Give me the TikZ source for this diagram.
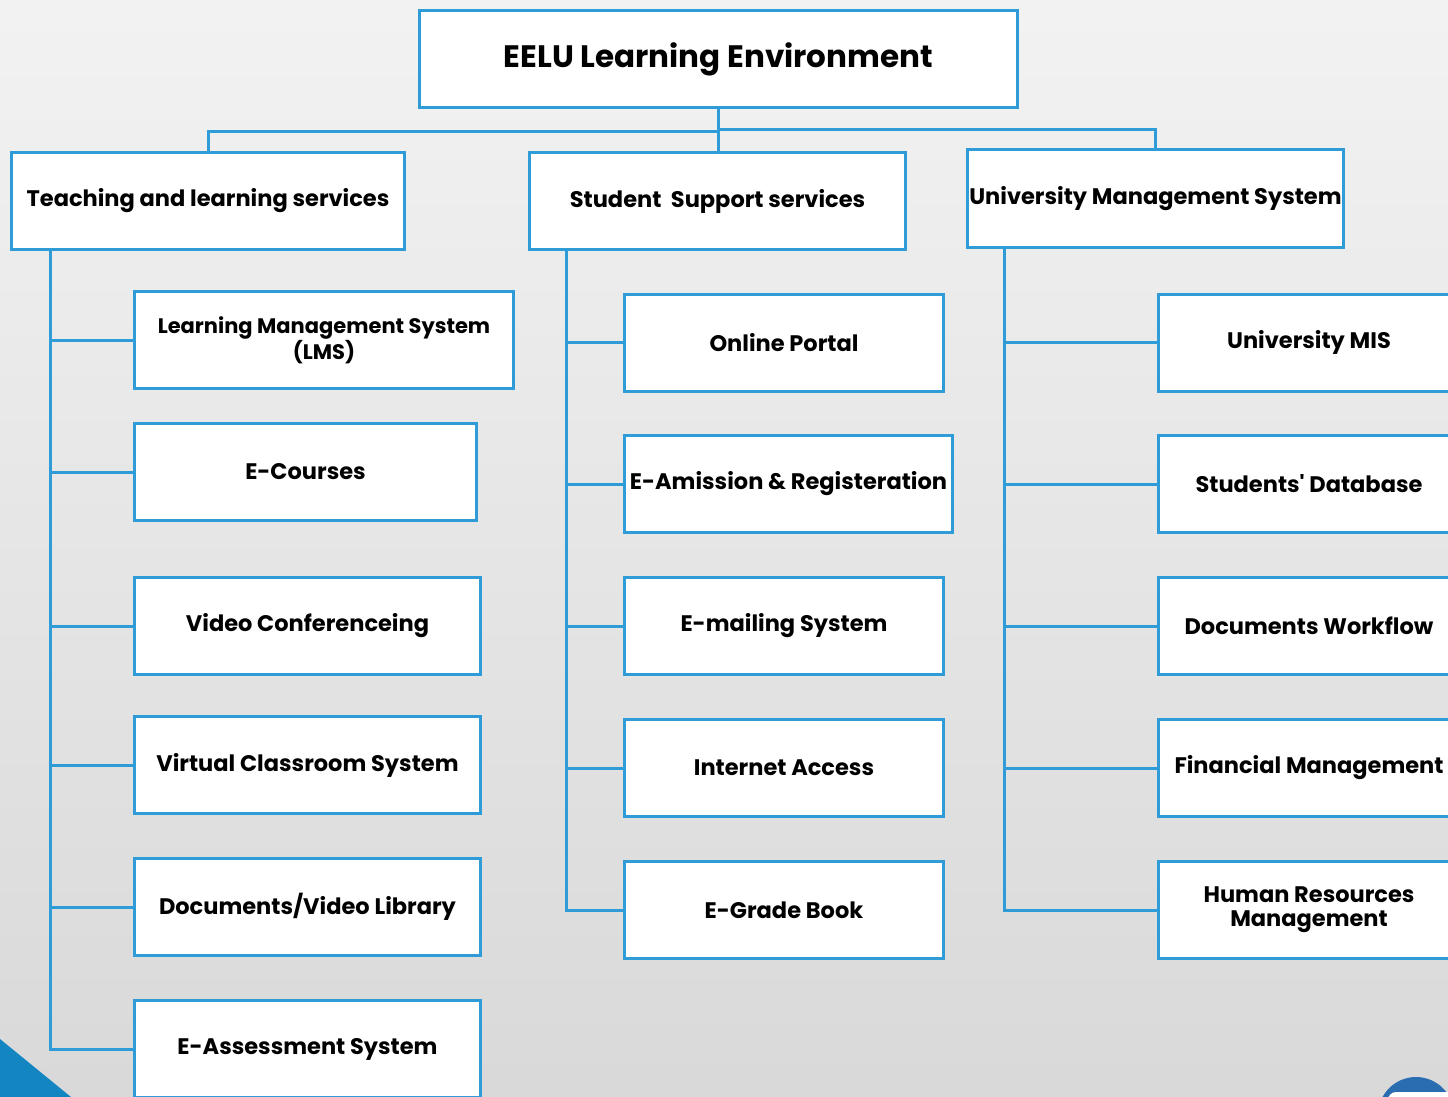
\documentclass[tikz,border=0pt]{standalone}
\usepackage{fontspec}
\setmainfont{Poppins}
\usetikzlibrary{positioning}
\definecolor{eeluBlue}{HTML}{2F9CD8}
\definecolor{cornerBlue}{HTML}{1386C2}
\definecolor{badgeBlue}{HTML}{2A6DB0}

\begin{document}
\begin{tikzpicture}[x=1pt,y=-1pt]
                \tikzset{Box/.style={%
                    shape=rectangle,%
                    draw=eeluBlue,%
                    fill=white,%
                    line width=3pt,%
                    minimum height=97pt,%
                    inner sep=2pt,%
                    align=center,%
                    font=\bfseries\fontsize{22.5}{24}\selectfont,%
                },
                Link/.style={draw=eeluBlue, line width=3pt}}

                % page and background
                \clip (0,0) rectangle (1448,1097);
                \shade[top color=black!5, bottom color=black!15] (0,0) rectangle (1448,1097);
                \fill[cornerBlue] (0,1039) -- (71,1097) -- (0,1097) -- cycle;
                \fill[badgeBlue] (1416,1115) circle (38);
                \fill[white, rounded corners=8pt] (1388,1092) rectangle (1460,1130);

                % top level
                \node[Box, minimum width=598pt, font=\bfseries\fontsize{31}{34}\selectfont] (root) at (718.5,59) {EELU Learning Environment};
                \node[Box, minimum width=393pt] (tls) at (208,201) {Teaching and learning services};
                \node[Box, minimum width=376pt] (sss) at (717.5,201) {Student\ \ Support services};
                \node[Box, minimum width=372pt] (ums) at (1155.5,198.5) {University Management System};

                % teaching and learning
                \node[Box, minimum width=379pt, font=\bfseries\fontsize{21}{22}\selectfont] (lms) at (324,340) {Learning Management System\\(LMS)};
                \node[Box, minimum width=342pt] (ecourses) at (305.5,472) {E-Courses};
                \node[Box, minimum width=346pt] (videoconf) at (307.5,626) {Video Conferenceing};
                \node[Box, minimum width=346pt] (virtual) at (307.5,765) {Virtual Classroom System};
                \node[Box, minimum width=346pt] (library) at (307.5,907) {Documents/Video Library};
                \node[Box, minimum width=346pt] (eassess) at (307.5,1049) {E-Assessment System};

                % student support
                \node[Box, minimum width=319pt] (portal) at (784,342.5) {Online Portal};
                \node[Box, minimum width=328pt] (admission) at (788.5,484) {E-Amission \& Registeration};
                \node[Box, minimum width=319pt] (mailing) at (784,626) {E-mailing System};
                \node[Box, minimum width=319pt] (internet) at (784,768) {Internet Access};
                \node[Box, minimum width=319pt] (grade) at (784,910) {E-Grade Book};

                % university management
                \node[Box, minimum width=301pt] (mis) at (1309,342.5) {University MIS};
                \node[Box, minimum width=301pt] (database) at (1309,484) {Students\textquotesingle\ Database};
                \node[Box, minimum width=301pt] (workflow) at (1309,626) {Documents Workflow};
                \node[Box, minimum width=301pt] (finance) at (1309,768) {Financial Management};
                \node[Box, minimum width=301pt] (hrm) at (1309,910) {Human Resources\\Management};

                % connectors
                \draw[Link] (root.south) -- ++(0,22.5) -| (tls.north);
                \draw[Link] (root.south) -- (root.south |- sss.north);
                \draw[Link] (root.south) -- ++(0,20.5) -| (ums.north);

                \foreach \child in {lms,ecourses,videoconf,virtual,library,eassess}
                    \draw[Link] ([xshift=40.5pt]tls.south west) |- (\child.west);
                \foreach \child in {portal,admission,mailing,internet,grade}
                    \draw[Link] ([xshift=38.5pt]sss.south west) |- (\child.west);
                \foreach \child in {mis,database,workflow,finance,hrm}
                    \draw[Link] ([xshift=38.5pt]ums.south west) |- (\child.west);
            \end{tikzpicture}
\end{document}
